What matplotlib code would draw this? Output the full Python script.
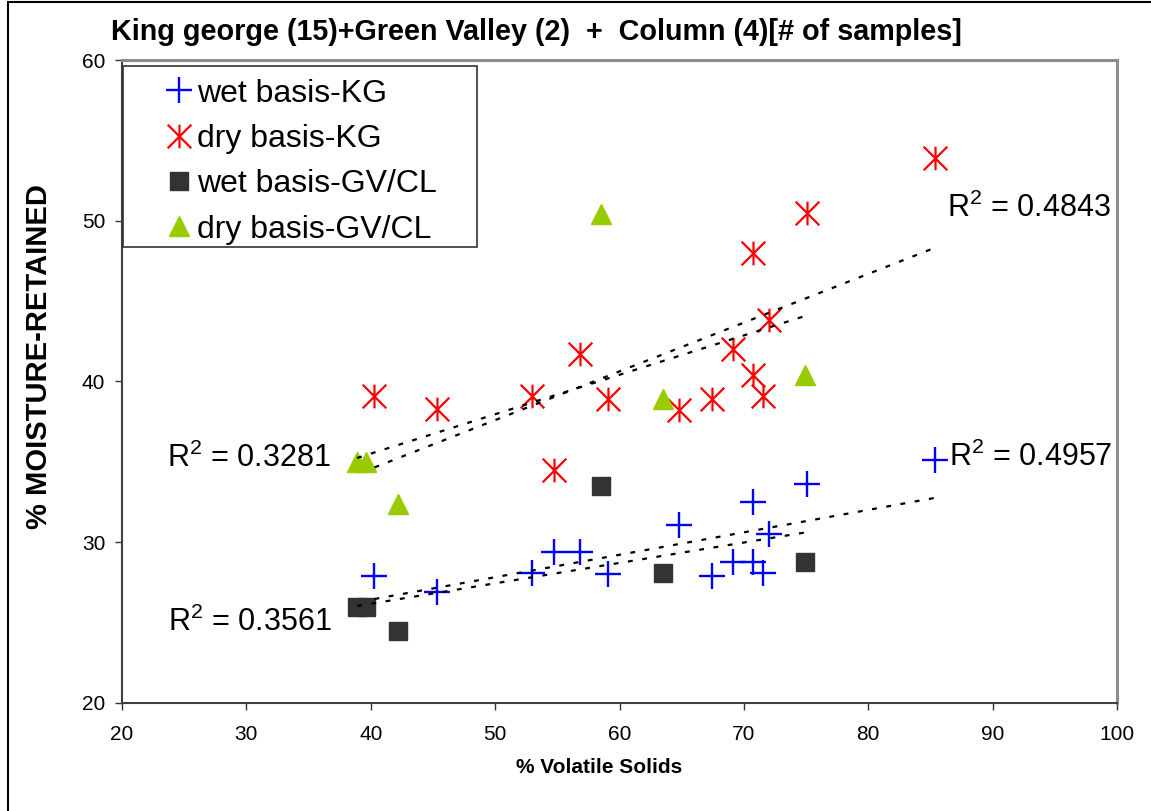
import numpy as np
import matplotlib
matplotlib.use("Agg")
import matplotlib.pyplot as plt
from matplotlib.path import Path
from matplotlib.patches import Rectangle

plt.rcParams['font.family'] = ['Liberation Sans', 'DejaVu Sans']
plt.rcParams['mathtext.default'] = 'regular'

# King george samples: % volatile solids, moisture retained (wet / dry basis)
kg_vs = [40.3, 45.3, 53.0, 54.7, 56.8, 59.1, 64.8, 67.4, 69.1, 70.7, 70.7, 71.5, 72.0, 75.1, 85.4]
kg_wet = [27.9, 26.9, 28.1, 29.4, 29.4, 28.0, 31.1, 27.9, 28.8, 28.8, 32.5, 28.1, 30.5, 33.6, 35.1]
kg_dry = [39.1, 38.3, 39.1, 34.5, 41.7, 38.9, 38.2, 38.9, 42.0, 40.4, 48.0, 39.1, 43.8, 50.5, 53.9]

# Green Valley / Column samples
gv_vs = [38.9, 39.6, 42.2, 58.5, 63.5, 74.9]
gv_wet = [26.0, 26.0, 24.5, 33.5, 28.1, 28.8]
gv_dry = [35.0, 35.0, 32.4, 50.4, 38.9, 40.4]

r2_labels = ['R$^{2}$ = 0.4957', 'R$^{2}$ = 0.4843', 'R$^{2}$ = 0.3561', 'R$^{2}$ = 0.3281']
r2_pos = [(86.5, 35.3), (86.3, 50.8), (23.7, 25.0), (23.6, 35.2)]

fig = plt.figure(figsize=(11.51, 8.11), dpi=100)
ax = fig.add_axes([0.106, 0.1332, 0.8645, 0.7928])

# excel style asterisk: X plus a vertical bar
star = Path([(-1, -1), (1, 1), (-1, 1), (1, -1), (0, -1), (0, 1)],
            [Path.MOVETO, Path.LINETO, Path.MOVETO, Path.LINETO, Path.MOVETO, Path.LINETO])

h1, = ax.plot(kg_vs, kg_wet, ls='none', marker='+', ms=19, mew=1.7, color='#0000ff',
              label='wet basis-KG', zorder=3)
h2, = ax.plot(kg_vs, kg_dry, ls='none', marker=star, ms=17, mew=1.6, color='#ff0000',
              mfc='none', label='dry basis-KG', zorder=3)
h3, = ax.plot(gv_vs, gv_wet, ls='none', marker='s', ms=13, color='#333333',
              label='wet basis-GV/CL', zorder=3)
h4, = ax.plot(gv_vs, gv_dry, ls='none', marker='^', ms=15, color='#99cc00', mec='#99cc00',
              label='dry basis-GV/CL', zorder=3)

# linear trendlines (like excel) over each series' x range
for xs, ys in [(kg_vs, kg_wet), (kg_vs, kg_dry), (gv_vs, gv_wet), (gv_vs, gv_dry)]:
    xs = np.array(xs)
    k, b = np.polyfit(xs, ys, 1)
    xx = np.array([xs.min(), xs.max()])
    ax.plot(xx, k * xx + b, color='black', lw=1.6, ls=(0, (2.2, 4.3)), zorder=4)

for txt, (tx, ty) in zip(r2_labels, r2_pos):
    ax.text(tx, ty, txt, fontsize=22, ha='left', va='center', zorder=5)

ax.set_xlim(20, 100)
ax.set_ylim(20, 60)
ax.set_xticks(np.arange(20, 101, 10))
ax.set_yticks(np.arange(20, 61, 10))
ax.tick_params(direction='out', length=5, width=1, color='#333333', labelsize=15)
ax.tick_params(axis='x', pad=11)
ax.tick_params(axis='y', pad=7)

for s in ['left', 'bottom']:
    ax.spines[s].set_color('#404040')
    ax.spines[s].set_linewidth(1.5)
for s in ['top', 'right']:
    ax.spines[s].set_color('#8c8c8c')
    ax.spines[s].set_linewidth(2.2)

ax.set_xlabel('% Volatile Solids', fontsize=15, fontweight='bold')
ax.xaxis.set_label_coords(0.48, -0.085)
ax.set_ylabel('% MOISTURE-RETAINED', fontsize=21, fontweight='bold')
ax.yaxis.set_label_coords(-0.069, 0.539)

fig.text(0.466, 0.96, 'King george (15)+Green Valley (2)  +  Column (4)[# of samples]',
         fontsize=20.7, fontweight='bold', ha='center', va='center')

leg = ax.legend(handles=[h1, h2, h3, h4], loc='upper left', bbox_to_anchor=(0.043, 0.971),
                borderaxespad=0, fontsize=23, frameon=False,
                handlelength=0.9, handletextpad=0.12, labelspacing=0.48, borderpad=0)

# legend box, drawn separately because excel pads it wider than tall
ax.add_patch(Rectangle((0.001, 0.7096), 0.356, 0.2811, transform=ax.transAxes,
                       fill=False, lw=1.2, edgecolor='#333333', zorder=6))

# outer chart border (cut off at right and bottom in the original)
fig.patches.append(Rectangle((0.007, -0.02), 1.1, 1.018, transform=fig.transFigure,
                             fill=False, lw=1.5, edgecolor='black'))

plt.savefig('out.png', dpi=100)
